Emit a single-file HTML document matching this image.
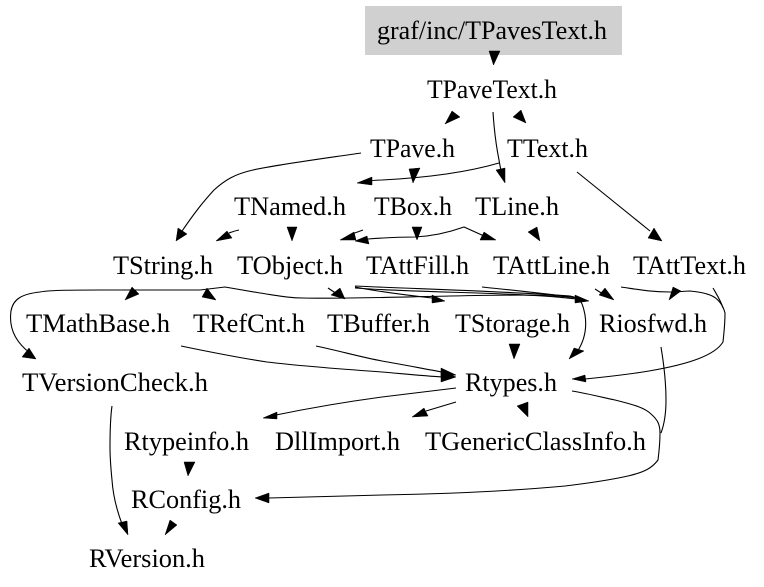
<!DOCTYPE html>
<html><head><meta charset="utf-8"><style>
html,body{margin:0;padding:0;background:#fff;width:764px;height:587px;overflow:hidden}
svg{display:block}
text{font-family:"Liberation Serif",serif;font-size:26px;fill:#000}
path{fill:none;stroke:#000;stroke-width:1.1}
polygon{fill:#000;stroke:#000;stroke-width:.5}
</style></head><body>
<svg width="764" height="587" viewBox="0 0 764 587">
<rect width="764" height="587" fill="#fff"/>
<rect x="365" y="6" width="257" height="49" fill="#d0d0d0"/>
<g>
<text x="377" y="39" textLength="230" lengthAdjust="spacingAndGlyphs">graf/inc/TPavesText.h</text>
<text x="427" y="98" textLength="130" lengthAdjust="spacingAndGlyphs">TPaveText.h</text>
<text x="370" y="157" textLength="85" lengthAdjust="spacingAndGlyphs">TPave.h</text>
<text x="507" y="157" textLength="81" lengthAdjust="spacingAndGlyphs">TText.h</text>
<text x="234" y="215" textLength="112" lengthAdjust="spacingAndGlyphs">TNamed.h</text>
<text x="374" y="215" textLength="78" lengthAdjust="spacingAndGlyphs">TBox.h</text>
<text x="475" y="215" textLength="84" lengthAdjust="spacingAndGlyphs">TLine.h</text>
<text x="113" y="274" textLength="100" lengthAdjust="spacingAndGlyphs">TString.h</text>
<text x="237" y="274" textLength="106" lengthAdjust="spacingAndGlyphs">TObject.h</text>
<text x="366" y="274" textLength="103" lengthAdjust="spacingAndGlyphs">TAttFill.h</text>
<text x="493" y="274" textLength="117" lengthAdjust="spacingAndGlyphs">TAttLine.h</text>
<text x="633" y="274" textLength="113" lengthAdjust="spacingAndGlyphs">TAttText.h</text>
<text x="26" y="332" textLength="144" lengthAdjust="spacingAndGlyphs">TMathBase.h</text>
<text x="193" y="332" textLength="112" lengthAdjust="spacingAndGlyphs">TRefCnt.h</text>
<text x="327" y="332" textLength="103" lengthAdjust="spacingAndGlyphs">TBuffer.h</text>
<text x="455" y="332" textLength="115" lengthAdjust="spacingAndGlyphs">TStorage.h</text>
<text x="599" y="332" textLength="108" lengthAdjust="spacingAndGlyphs">Riosfwd.h</text>
<text x="22" y="391" textLength="186" lengthAdjust="spacingAndGlyphs">TVersionCheck.h</text>
<text x="465" y="391" textLength="92" lengthAdjust="spacingAndGlyphs">Rtypes.h</text>
<text x="124" y="450" textLength="125" lengthAdjust="spacingAndGlyphs">Rtypeinfo.h</text>
<text x="275" y="450" textLength="125" lengthAdjust="spacingAndGlyphs">DllImport.h</text>
<text x="425" y="450" textLength="221" lengthAdjust="spacingAndGlyphs">TGenericClassInfo.h</text>
<text x="131" y="508" textLength="110" lengthAdjust="spacingAndGlyphs">RConfig.h</text>
<text x="89" y="567" textLength="116" lengthAdjust="spacingAndGlyphs">RVersion.h</text>
</g>
<g>
<path d="M493 112C494 128 496 145 499 160C500 166 501 170 501 172"/>
<path d="M499 163C475 170 440 177 382 180C378 180 375 180 370 181"/>
<path d="M361 153C320 159 275 165 253 170C235 174 225 180 214 190C203 202 195 212 180 234"/>
<path d="M577 172L650 231"/>
<path d="M239 230C234 231 232 232 229 233"/>
<path d="M363 230L352 234"/>
<path d="M368 239C395 237 405 237 415 237C435 236 450 232 464 227L484 236"/>
<path d="M200 290C170 290 130 290 100 290C75 290 50 290 40 292C22 294 13 299 11 311C9 325 13 340 30 353"/>
<path d="M200 290L225 287L260 293C280 296 290 298 303 298C340 299 400 297 450 296C500 295 550 294 578 298"/>
<path d="M328 288L340 296"/>
<path d="M355 287C380 292 405 295 432 298"/>
<path d="M355 288C420 293 520 292 577 299"/>
<path d="M355 286C420 289 500 291 570 296C582 298 583 305 585 315C587 328 585 340 577 352"/>
<path d="M482 287C520 291 550 294 578 298"/>
<path d="M595 289L606 296"/>
<path d="M621 287C635 289 650 292 670 292C680 292 685 291 690 291C700 292 705 293 710 295C718 298 723 305 725 313C725 325 724 332 723 342C715 355 690 364 649 371C625 375 605 377 585 379"/>
<path d="M713 288C717 295 721 301 723 308"/>
<path d="M181 346C210 352 240 358 267 362C300 366 340 369 382 372C405 374 425 376 442 377"/>
<path d="M316 346C340 351 360 357 382 361C405 365 425 369 442 372"/>
<path d="M456 388C430 391 405 394 382 397C345 402 310 408 276 415"/>
<path d="M456 402L426 411"/>
<path d="M572 391C590 394 605 398 615 400C635 405 645 408 651 414C658 420 660 425 660 433C660 442 659 452 658 460C652 468 645 472 628 476C610 480 590 483 565 486C500 492 440 494 382 495C345 496 310 497 269 498"/>
<path d="M661 347C664 365 666 385 666 400C666 415 664 425 661 433"/>
<path d="M112 406C110 420 110 435 110 447C110 460 111 470 112 480C113 495 116 508 122 524"/>
</g>
<g>
<polygon points="489,51 500,51 493.5,65"/>
<polygon points="445,124 452,111 460,117"/>
<polygon points="526,123 513,117 521,110"/>
<polygon points="505,183 496,170 505,168"/>
<polygon points="357,183 372,177 372,185"/>
<polygon points="409,169 420,168 413,183"/>
<polygon points="176,241 178,228 187,234"/>
<polygon points="662,241 654,228 648,238"/>
<polygon points="216,241 227,231 232,238"/>
<polygon points="287,227 297,227 292,241"/>
<polygon points="340,240 354,232 356,240"/>
<polygon points="355,241 367,236 369,244"/>
<polygon points="496,240 484,232 480,240"/>
<polygon points="412,227 422,227 417,240"/>
<polygon points="528,232 537,227 540,241"/>
<polygon points="36,359 29,348 22,357"/>
<polygon points="125,300 132,287 139,294"/>
<polygon points="216,300 207,288 202,297"/>
<polygon points="345,299 340,288 331,295"/>
<polygon points="445,301 432,295 432,303"/>
<polygon points="589,301 575,295 575,303"/>
<polygon points="569,359 574,348 584,351"/>
<polygon points="614,300 605,288 599,295"/>
<polygon points="669,300 673,287 681,291"/>
<polygon points="572,379 585,375 586,382"/>
<polygon points="509,344 520,344 514,359"/>
<polygon points="456,377 441,371 441,382"/>
<polygon points="456,375 441,368 441,377"/>
<polygon points="263,418 277,412 277,419"/>
<polygon points="412,417 424,408 428,416"/>
<polygon points="528,402 517,406 528,417"/>
<polygon points="255,498 269,493 269,503"/>
<polygon points="184,462 195,462 188,476"/>
<polygon points="170,520 177,525 165,535"/>
<polygon points="128,535 118,523 127,521"/>
</g>
</svg>
</body></html>
